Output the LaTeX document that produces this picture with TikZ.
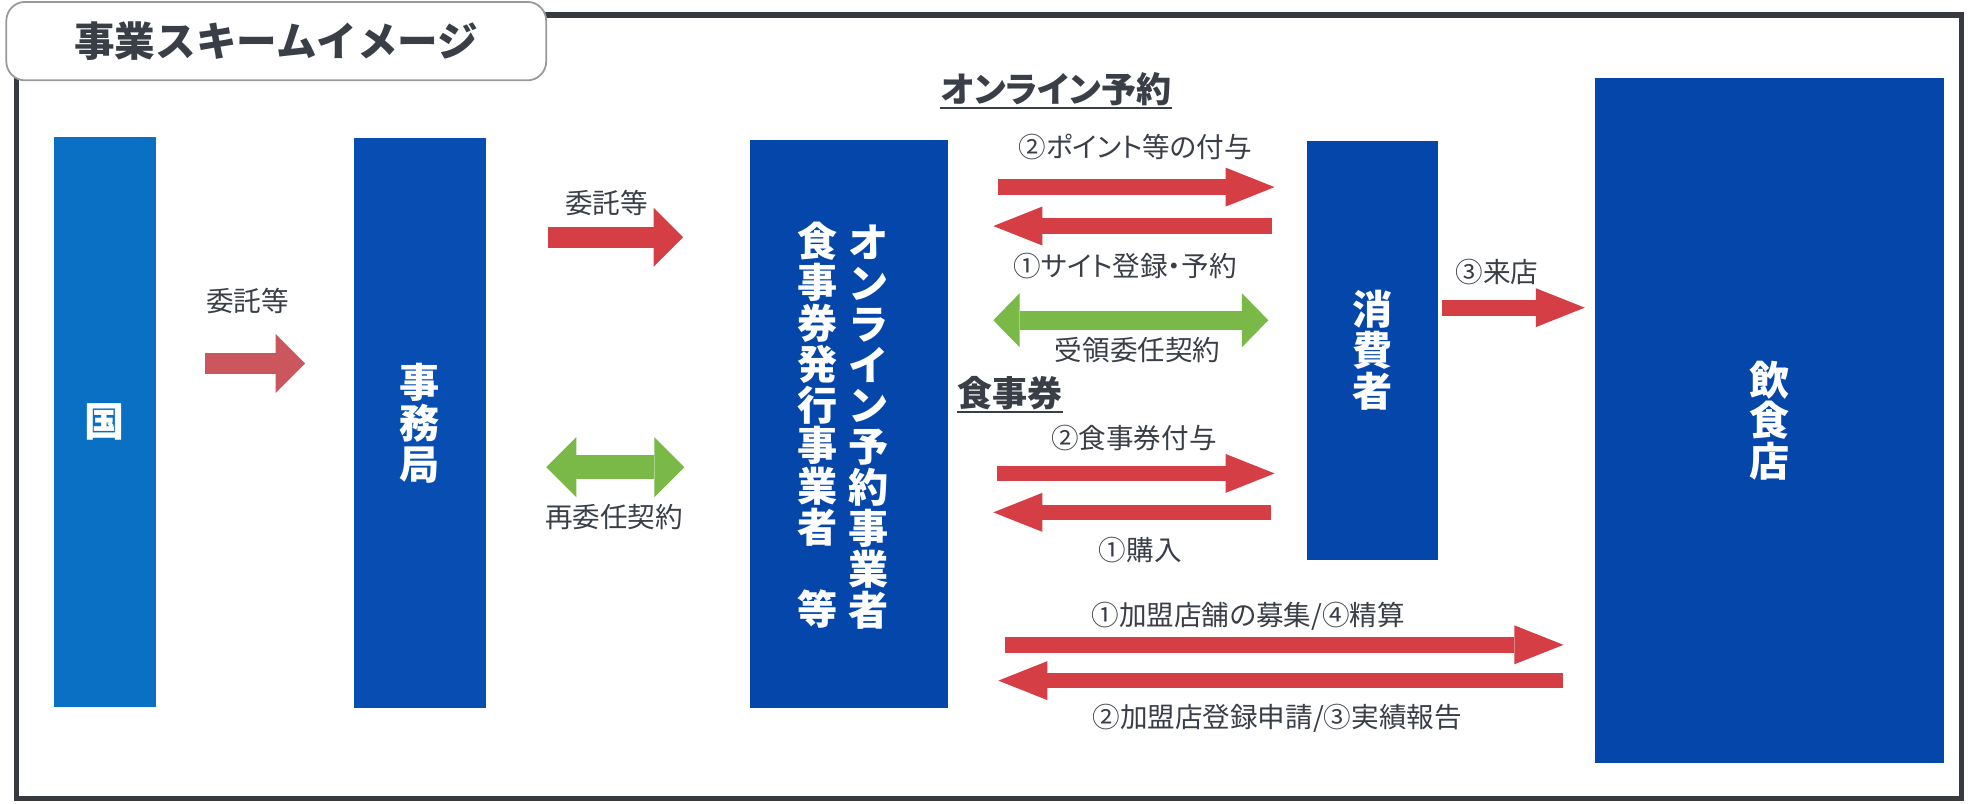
\documentclass[tikz,border=0pt]{standalone}
\usepackage{fontspec}
\usepackage{tikz}
\usetikzlibrary{arrows.meta}

\setmainfont{Noto Sans CJK JP}
\newfontfamily\kanafont{Noto Sans CJK JP}[RawFeature=+palt]

\definecolor{kuniblue}{RGB}{10,112,196}
\definecolor{midblue}{RGB}{8,78,178}
\definecolor{boxblue}{RGB}{4,70,170}
\definecolor{arrred}{RGB}{214,62,70}
\definecolor{arrsoft}{RGB}{203,86,94}
\definecolor{arrgreen}{RGB}{122,184,72}
\definecolor{txtgray}{RGB}{58,62,70}
\definecolor{framegray}{RGB}{55,58,62}

\newcommand\lblfont{\kanafont\fontsize{12.5pt}{14pt}\selectfont}
\newcommand\hdfont{\kanafont\bfseries\fontsize{15.9pt}{18pt}\selectfont}
\newcommand\bxfont{\bfseries\fontsize{18.2pt}{18.5pt}\selectfont}
\newcommand\ttlfont{\bfseries\fontsize{18.4pt}{20pt}\selectfont}

\begin{document}
\begin{tikzpicture}[x=0.02cm, y=-0.02cm]
	\useasboundingbox (0,0) rectangle (1568,640);
	% outer frame and title tab
	\draw [framegray, line width=0.09cm] (13,12) rectangle (1562,636);
	\node [draw=black!40, fill=white, line width=0.8pt, rounded corners=0.3cm,
		minimum width=8.6cm, minimum height=1.25cm, text=txtgray, font=\ttlfont]
		(title) at (220,32.75) {事業スキームイメージ};

	\begin{scope}[every node/.style = {inner sep=0pt, outer sep=0pt, text=white,
			align=center, font=\bxfont}]
		\node [fill=kuniblue, minimum width=1.62cm, minimum height=9.08cm] (kuni) at (83.5,336) {国};
		\node [fill=midblue, minimum width=2.1cm, minimum height=9.08cm] (jimu) at (334.5,337) {事\\務\\局};
		\node [fill=boxblue, minimum width=3.16cm, minimum height=9.05cm] (oper) at (676,337.75) {};
		\node (operL) at (651,338.5) {食\\事\\券\\発\\行\\事\\業\\者\\　\\等};
		\node (operR) at (692,340) {オ\\ン\\ラ\\イ\\ン\\予\\約\\事\\業\\者};
		\node [fill=boxblue, minimum width=2.08cm, minimum height=6.68cm] (shohi) at (1093,279) {消\\費\\者};
		\node [fill=boxblue, minimum width=5.56cm, minimum height=10.92cm] (inshoku) at (1409,335) {飲\\食\\店};
	\end{scope}

	% headings
	\begin{scope}[every node/.style = {inner sep=0pt, text=txtgray, font=\hdfont}]
		\node (hdOnline) at (841,71) {オンライン予約};
		\node (hdTicket) at (804,313) {食事券};
	\end{scope}
	\draw [txtgray, line width=0.04cm] ([yshift=-0.03cm]hdOnline.south west) -- ([yshift=-0.03cm]hdOnline.south east);
	\draw [txtgray, line width=0.04cm] ([yshift=-0.03cm]hdTicket.south west) -- ([yshift=-0.03cm]hdTicket.south east);

	% labels
	\begin{scope}[every node/.style = {inner sep=0pt, text=txtgray, font=\lblfont}]
		\node (lbA) at (197,240) {委託等};
		\node (lbB) at (483,162) {委託等};
		\node (lbC) at (489,412) {再委任契約};
		\node (lbD) at (904,117) {②ポイント等の付与};
		\node (lbE) at (896,212) {①サイト登録・予約};
		\node (lbF) at (906,279) {受領委任契約};
		\node (lbG) at (903,349) {②食事券付与};
		\node (lbH) at (908,438) {①購入};
		\node (lbI) at (1192,217) {③来店};
		\node (lbJ) at (994,491) {①加盟店舗の募集/④精算};
		\node (lbK) at (1017,572) {②加盟店登録申請/③実績報告};
	\end{scope}

	% arrow ends
	\coordinate (A1) at (163,289.5);  \coordinate (A2) at (243,289.5);
	\coordinate (B1) at (436,189);    \coordinate (B2) at (544,189);
	\coordinate (C1) at (435,372);    \coordinate (C2) at (545,372);
	\coordinate (D1) at (795,149);    \coordinate (D2) at (1015,149);
	\coordinate (E1) at (1013,180);   \coordinate (E2) at (791,180);
	\coordinate (F1) at (791,255);    \coordinate (F2) at (1010,255);
	\coordinate (G1) at (794,377);    \coordinate (G2) at (1015,377);
	\coordinate (H1) at (1012,408);   \coordinate (H2) at (791,408);
	\coordinate (I1) at (1148,245);   \coordinate (I2) at (1262,245);
	\coordinate (J1) at (800,513.5);  \coordinate (J2) at (1245,513.5);
	\coordinate (K1) at (1245,542);   \coordinate (K2) at (795,542);

	\begin{scope}[every edge/.style={draw=arrred, line width=0.33cm,
			-{Triangle[length=0.47cm, width=0.94cm, line width=0pt]}}]
		\path (A1) edge [draw=arrsoft] (A2);
		\path (B1) edge (B2);
	\end{scope}
	\begin{scope}[every edge/.style={draw=arrred, line width=0.25cm,
			-{Triangle[length=0.78cm, width=0.62cm, line width=0pt]}}]
		\path (D1) edge (D2);
		\path (E1) edge (E2);
		\path (G1) edge (G2);
		\path (H1) edge (H2);
		\path (I1) edge (I2);
		\path (J1) edge (J2);
		\path (K1) edge (K2);
	\end{scope}
	\begin{scope}[every edge/.style={draw=arrgreen}]
		\path (C1) edge [line width=0.38cm,
			{Triangle[length=0.48cm, width=0.96cm, line width=0pt]}-{Triangle[length=0.48cm, width=0.96cm, line width=0pt]}] (C2);
		\path (F1) edge [line width=0.3cm,
			{Triangle[length=0.42cm, width=0.86cm, line width=0pt]}-{Triangle[length=0.42cm, width=0.86cm, line width=0pt]}] (F2);
	\end{scope}
\end{tikzpicture}
\end{document}
